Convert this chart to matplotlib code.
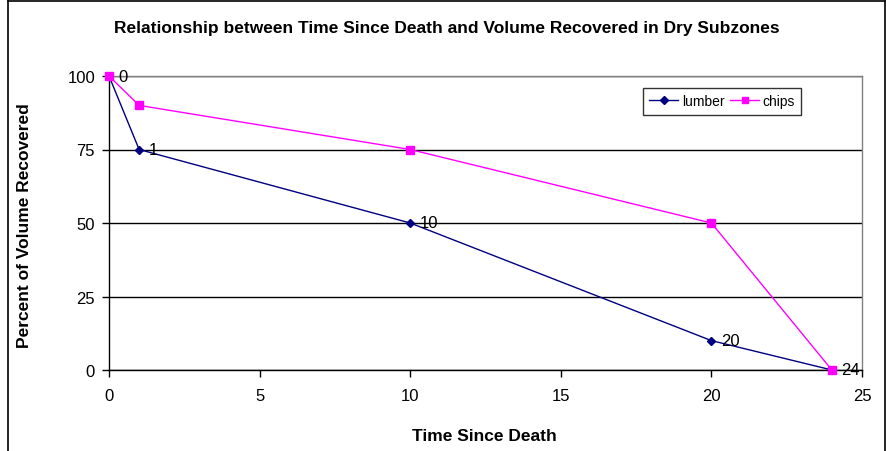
import matplotlib
matplotlib.use("Agg")
import matplotlib.pyplot as plt
from matplotlib.lines import Line2D

plt.rcParams['font.family'] = ['Liberation Sans', 'DejaVu Sans']

years = [0, 1, 10, 20, 24]
lumber = [100, 75, 50, 10, 0]
chips = [100, 90, 75, 50, 0]
point_labels = ["0", "1", "10", "20", "24"]
x_ticks = [0, 5, 10, 15, 20, 25]
y_ticks = [0, 25, 50, 75, 100]

W, H, DPI = 886, 452, 100
fig = plt.figure(figsize=(W / DPI, H / DPI), dpi=DPI)

# outer chart border (left, top, right)
for xs, ys in [([8, 8], [452, 2]), ([8, 885], [2, 2]), ([885, 885], [2, 452])]:
    fig.add_artist(Line2D([x / W for x in xs], [1 - y / H for y in ys],
                          transform=fig.transFigure, color='black', lw=1.2))

left, right, top, bottom = 109, 862, 77, 371
ax = fig.add_axes([left / W, 1 - bottom / H, (right - left) / W, (bottom - top) / H])
ax.set_xlim(0, 25)
ax.set_ylim(0, 100)
ax.set_xticks(x_ticks)
ax.set_yticks(y_ticks)
ax.tick_params(labelsize=12, length=5, width=1, direction='out', color='black')
ax.tick_params(axis='x', pad=8)
ax.tick_params(axis='y', pad=5)

for s in ['top', 'right']:
    ax.spines[s].set_color('#808080')
    ax.spines[s].set_linewidth(1)
for s in ['left', 'bottom']:
    ax.spines[s].set_color('black')
    ax.spines[s].set_linewidth(1)

ax.yaxis.grid(True, color='black', lw=1)
ax.set_axisbelow(True)

ax.plot(years, lumber, color='#000080', lw=1, marker='D', ms=4.5,
        markerfacecolor='#000080', markeredgecolor='#000080', label='lumber',
        clip_on=False, zorder=3)
ax.plot(years, chips, color='#FF00FF', lw=1, marker='s', ms=6,
        markerfacecolor='#FF00FF', markeredgecolor='#FF00FF', label='chips',
        clip_on=False, zorder=3)

for x, y, t in zip(years, lumber, point_labels):
    ax.annotate(t, (x, y), xytext=(7, 0), textcoords='offset points',
                ha='left', va='center', fontsize=12, zorder=4)

leg = ax.legend(loc='upper left',
                bbox_to_anchor=((643 - left) / (right - left), 1 - (89 - top) / (bottom - top)),
                ncol=2, fontsize=10, frameon=True, fancybox=False, handlelength=2.1,
                handletextpad=0.25, columnspacing=0.4, borderpad=0.45, borderaxespad=0,
                markerscale=0.8)
leg.get_frame().set_edgecolor('black')
leg.get_frame().set_linewidth(1)

fig.text(484 / W, 1 - 437 / H, 'Time Since Death', ha='center', va='center',
         fontsize=12.5, fontweight='bold')
fig.text(25 / W, 1 - 226 / H, 'Percent of Volume Recovered', ha='center', va='center',
         rotation=90, fontsize=12.5, fontweight='bold')
fig.text(447 / W, 1 - 28 / H,
         'Relationship between Time Since Death and Volume Recovered in Dry Subzones',
         ha='center', va='center', fontsize=12.5, fontweight='bold')

fig.savefig('out.png', dpi=DPI)
